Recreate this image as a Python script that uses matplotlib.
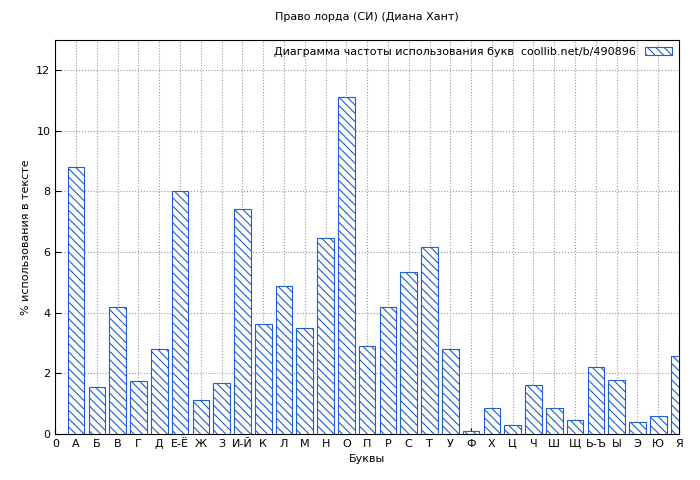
import matplotlib
matplotlib.use("Agg")
import matplotlib.pyplot as plt

letters = ["А", "Б", "В", "Г", "Д", "Е-Ё", "Ж", "З", "И-Й", "К", "Л", "М", "Н", "О", "П",
           "Р", "С", "Т", "У", "Ф", "Х", "Ц", "Ч", "Ш", "Щ", "Ь-Ъ", "Ы", "Э", "Ю", "Я"]
percent = [8.82, 1.55, 4.18, 1.74, 2.8, 8.0, 1.12, 1.68, 7.43, 3.62, 4.87, 3.49, 6.45, 11.12, 2.89,
           4.18, 5.33, 6.18, 2.8, 0.1, 0.86, 0.3, 1.61, 0.86, 0.46, 2.2, 1.78, 0.39, 0.59, 2.57]

plt.rcParams["font.family"] = ["DejaVu Sans"]
plt.rcParams["font.size"] = 8
plt.rcParams["hatch.color"] = "#1f5fd0"
plt.rcParams["hatch.linewidth"] = 0.8

fig, ax = plt.subplots(figsize=(7, 4.8), dpi=100)
fig.subplots_adjust(left=0.079, right=0.97, top=0.917, bottom=0.096)

xs = list(range(1, len(letters) + 1))
ax.bar(xs, percent, width=0.8, facecolor="white", edgecolor="#1f5fd0", linewidth=0.8,
       hatch="\\\\\\\\", label="Диаграмма частоты использования букв  coollib.net/b/490896",
       zorder=3)

ax.set_xlim(0, 30)
ax.set_ylim(0, 13)
ax.set_xticks([0] + xs)
ax.set_xticklabels(["0"] + letters)
ax.set_yticks(range(0, 13, 2))
ax.grid(True, color="#999999", linestyle=":", linewidth=0.8, zorder=0)
ax.tick_params(direction="in", length=4)

ax.set_title("Право лорда (СИ) (Диана Хант)", fontsize=8, pad=14)
ax.set_xlabel("Буквы")
ax.set_ylabel("% использования в тексте")
ax.legend(loc="upper right", frameon=False, fontsize=8, markerfirst=False,
          handlelength=2.5, handleheight=0.8, borderaxespad=0.2)

fig.savefig("out.png", dpi=100)
